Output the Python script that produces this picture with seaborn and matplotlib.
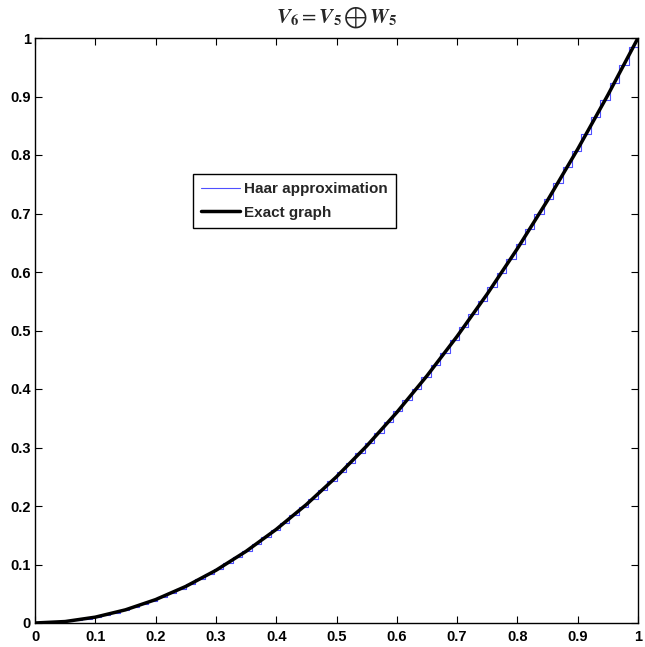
import numpy as np
import pandas as pd
import matplotlib
matplotlib.use('Agg')
import matplotlib.pyplot as plt
import seaborn as sns

# == datos

# niveles de la aproximación de Haar (64 escalones en [0,1])
haar_niveles = [0.0001, 0.0006, 0.0015, 0.0030, 0.0050, 0.0074, 0.0103, 0.0138,
                0.0177, 0.0221, 0.0269, 0.0323, 0.0382, 0.0445, 0.0514, 0.0587,
                0.0665, 0.0748, 0.0836, 0.0929, 0.1026, 0.1129, 0.1236, 0.1348,
                0.1466, 0.1588, 0.1715, 0.1847, 0.1983, 0.2125, 0.2271, 0.2423,
                0.2579, 0.2740, 0.2906, 0.3077, 0.3253, 0.3433, 0.3619, 0.3809,
                0.4005, 0.4205, 0.4410, 0.4620, 0.4835, 0.5055, 0.5279, 0.5509,
                0.5743, 0.5982, 0.6226, 0.6475, 0.6729, 0.6988, 0.7252, 0.7520,
                0.7794, 0.8072, 0.8355, 0.8643, 0.8936, 0.9234, 0.9537, 0.9845]

# curva exacta
exacta_x = [0.00, 0.05, 0.10, 0.15, 0.20, 0.25, 0.30, 0.35, 0.40, 0.45, 0.50,
            0.55, 0.60, 0.65, 0.70, 0.75, 0.80, 0.85, 0.90, 0.95, 1.00]
exacta_y = [0.0000, 0.0025, 0.0100, 0.0225, 0.0400, 0.0625, 0.0900, 0.1225,
            0.1600, 0.2025, 0.2500, 0.3025, 0.3600, 0.4225, 0.4900, 0.5625,
            0.6400, 0.7225, 0.8100, 0.9025, 1.0000]

ticks = [0, 0.1, 0.2, 0.3, 0.4, 0.5, 0.6, 0.7, 0.8, 0.9, 1]
tick_labels = ['0', '0.1', '0.2', '0.3', '0.4', '0.5', '0.6', '0.7', '0.8', '0.9', '1']

# == tablas para seaborn

bordes = np.linspace(0, 1, len(haar_niveles) + 1)
df_haar = pd.DataFrame({
    'x': np.repeat(bordes, 2)[1:-1],
    'y': np.repeat(haar_niveles, 2),
})
df_exacta = pd.DataFrame({'x': exacta_x, 'y': exacta_y})

# == figura

sns.set_style('white')
plt.rcParams['font.family'] = ['Liberation Sans', 'DejaVu Sans']
plt.rcParams['mathtext.fontset'] = 'stix'

fig = plt.figure(figsize=(6.45, 6.47), dpi=100)
ax = fig.add_axes([35/645, 1 - 623/647, 603/645, 585/647])

sns.lineplot(data=df_haar, x='x', y='y', sort=False, estimator=None,
             color='#4f4fff', linewidth=0.8, label='Haar approximation', ax=ax)
sns.lineplot(data=df_exacta, x='x', y='y', sort=False, estimator=None,
             color='black', linewidth=2.5, label='Exact graph', ax=ax)

ax.set_xlim(0, 1)
ax.set_ylim(0, 1)
ax.set_xticks(ticks)
ax.set_yticks(ticks)
ax.set_xticklabels(tick_labels, fontweight='bold', fontsize=10.5)
ax.set_yticklabels(tick_labels, fontweight='bold', fontsize=10.5)
ax.tick_params(direction='in', length=5, width=0.8, top=True, right=True,
               bottom=True, left=True, pad=5, colors='black')
ax.tick_params(axis='y', pad=3)
for s in ax.spines.values():
    s.set_color('black')
    s.set_linewidth(1.0)
ax.set_xlabel('')
ax.set_ylabel('')

ax.set_title(r'$\mathbfit{V}_{\mathbf{6}} = \mathbfit{V}_{\mathbf{5}}\, \bigoplus\, \mathbfit{W}_{\mathbf{5}}$',
             fontsize=15, pad=11)

leg = ax.legend(loc='upper left', bbox_to_anchor=(158/603, (623 - 174)/585),
                prop={'weight': 'bold', 'size': 11}, frameon=True,
                fancybox=False, framealpha=1, edgecolor='black',
                handlelength=2.5, borderpad=0.55, labelspacing=0.6,
                handletextpad=0.3, borderaxespad=0)
leg.get_frame().set_linewidth(1.0)

plt.savefig('out.png', dpi=100)
